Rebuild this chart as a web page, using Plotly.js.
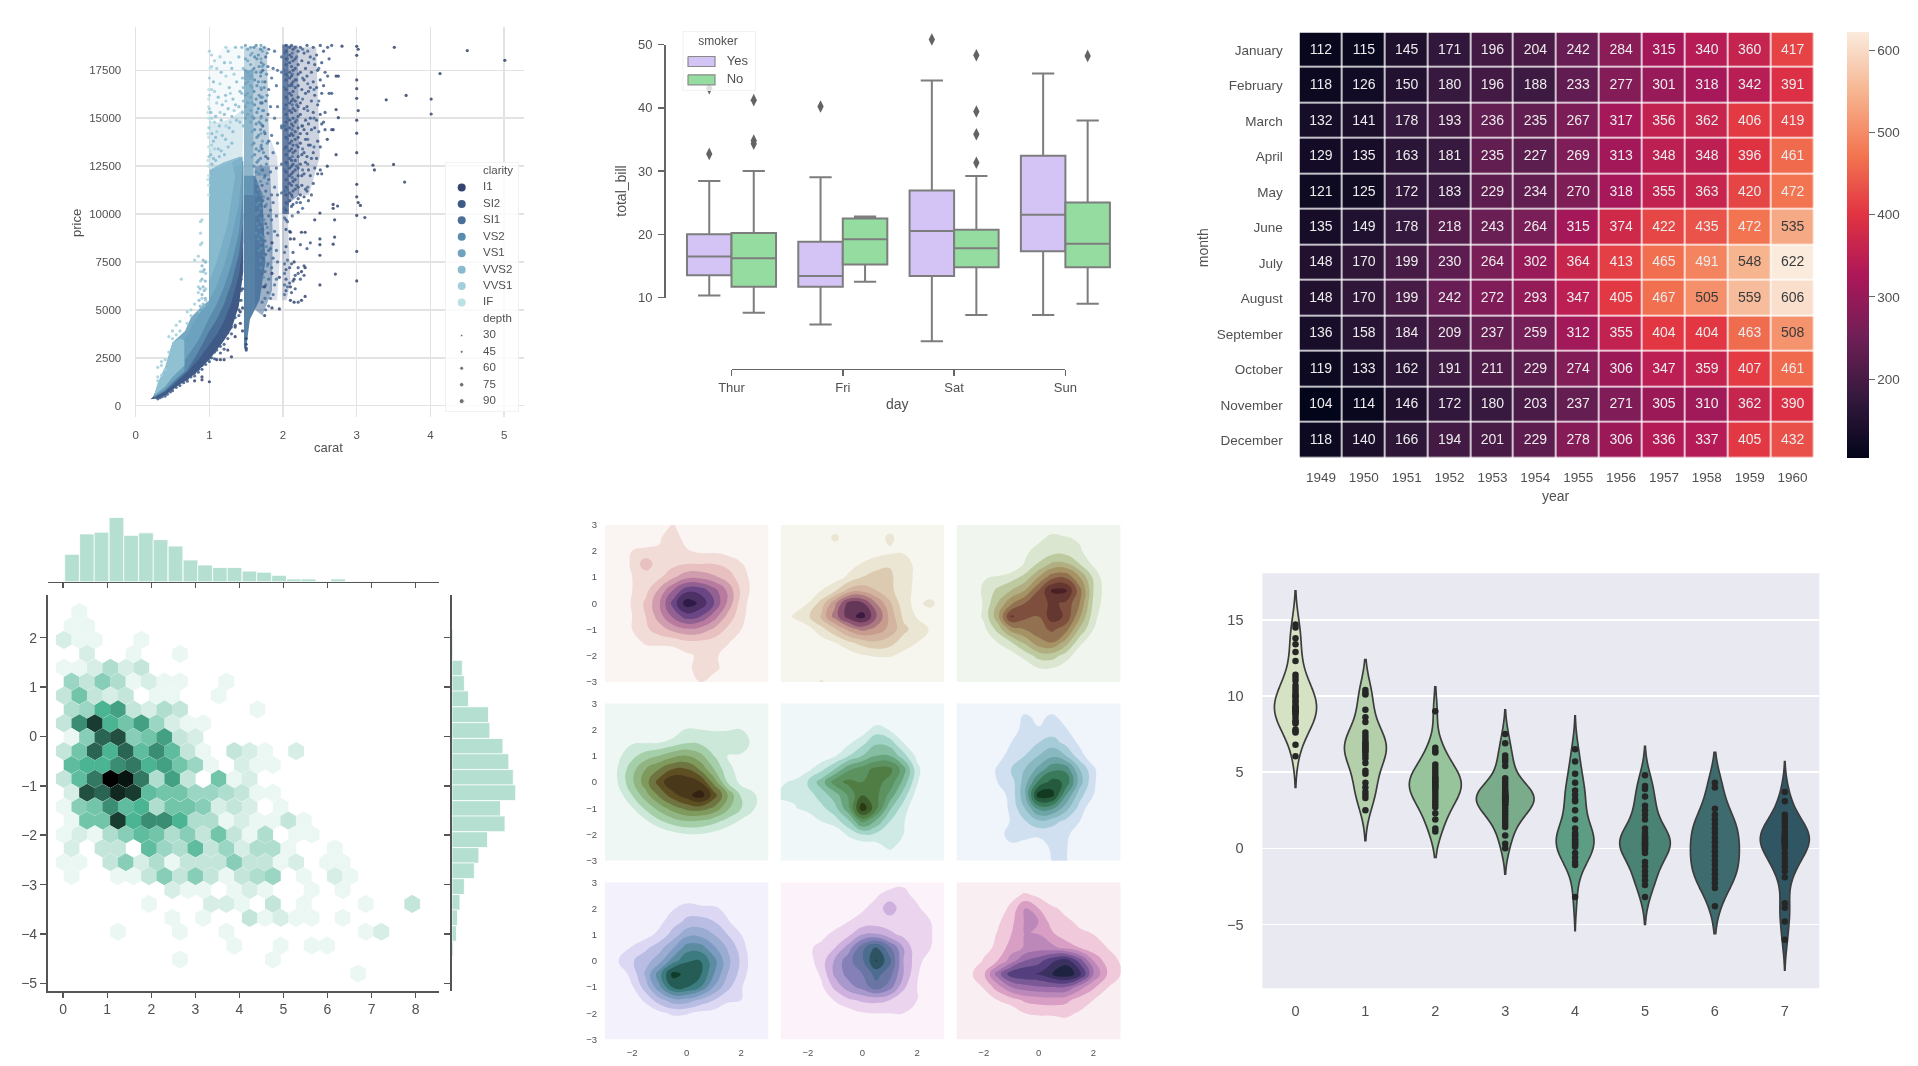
<!DOCTYPE html>
<html><head><meta charset="utf-8">
<script src="https://cdn.plot.ly/plotly-3.0.1.min.js"></script>
<style>html,body{margin:0;padding:0;background:#fff}#chart{width:1918px;height:1066px;filter:blur(0.75px)}</style>
</head><body><div id="chart"></div>
<script>
const W=1918,H=1066;
const FONT='"Liberation Sans",Arial,sans-serif', TXT='#505050';

/* ---------- diamonds scatter ---------- */
const clarityNames=['I1','SI2','SI1','VS2','VS1','VVS2','VVS1','IF'];
const clarityColors=['#34446f','#3f5a87','#4a6f99','#5b8cae','#6ea2be','#88bad0','#a1cfda','#bae1e5'];
const depthValues=['30','45','60','75','90'];
const depthSizes=[2.5,3,4,4.5,5];
const priceTicks=[0,2500,5000,7500,10000,12500,15000,17500];
const caratTicks=[0,1,2,3,4,5];
// dense parts of the cloud: [carat list, price list in thousands, colour, opacity]
const cloudRegions=[
[[.2,.3,.4,.5,.6,.7,.8,.9,1,1.1,1.2,1.3,1.4,1.46,1.46,1.35,1.2,1,.9,.8,.7,.5,.3],[.33,.38,.55,.85,1.1,1.35,1.65,2,2.4,2.9,3.4,4,5.2,7,10,9,7.2,5.3,3.9,3.1,2.5,1.5,.7],'#3f5a87',1],
[[.23,.4,.5,.7,.85,1,1.1,1.2,1.3,1.4,1.46,1.46,1.35,1.2,1.1,1,1,.9,.8,.7,.5,.3],[.4,.72,1.05,1.75,2.4,3.2,3.7,4.4,5.4,6.8,8.5,12.5,12,10,8.5,7,5.2,5,4.3,3.6,2.1,1],'#4a6f99',1],
[[.24,.4,.5,.7,.85,1,1.1,1.2,1.3,1.4,1.46,1.46,1.3,1.1,1,1,.9,.8,.7,.5,.3],[.42,.78,1.15,1.85,2.8,3.9,4.5,5.3,6.4,7.9,9.7,12.8,12.2,10,8.5,5.3,5.1,4.4,3.7,2.5,1.05],'#5b8cae',1],
[[.25,.4,.5,.66,.67,.85,1,1.1,1.2,1.3,1.4,1.45,1.45,1.35,1.2,1.05,1,1,.9,.75,.67,.5,.4,.3],[.45,.85,1.25,1.8,2.4,3.4,4.6,5.3,6.2,7.4,9,11,13,12.8,12.5,12.3,12,5.5,5.2,4.6,3.9,3.3,2,1.1],'#6fa3c0',.95],
[[1,1.1,1.2,1.3,1.4,1.45,1.42,1.2,1],[5.5,6.3,7.3,8.8,10.5,12.5,13,12.7,12.3],'#7db0c8',.85],
[[.25,.4,.5,.66,.66,.6,.5,.42,.3],[.55,1,1.5,2.1,3.4,3.5,3.3,2.2,1.2],'#8fc1d2',1],
[[1,1.1,1.25,1.35,1.3,1.1,1],[6.5,7.5,9.5,12,12.8,12.5,12],'#8fc1d2',.7],
[[1,1.45,1.46,1.3,1.15,1],[12,12.6,15.5,15,14.8,14.8],'#88bad0',.32],
[[1,1.46,1.46,1.2,1.05,1],[14.8,15.5,18.7,18.7,18,17],'#a1cfda',.12],
[[1.47,1.47,1.62,1.72,1.76,1.68,1.55,1.5],[3,12,12,11,7.5,5.5,4.5,3],'#4f7aa1',.95],
[[1.62,1.62,1.82,1.86,1.85,1.72],[5,12.5,12.5,9,6,4.7],'#4a6f99',.55],
[[1.47,1.47,1.6,1.6],[11,17.5,17.5,11],'#6a9cb8',.75],
[[1.47,1.47,1.6,1.6],[17,18.7,18.7,17],'#6a9cb8',.4],
[[1.6,1.6,1.78,1.82],[12,18.7,18.7,12],'#5b86a9',.4],
[[1.82,1.82,1.92,1.96,1.92],[5.5,14,13,8,5.5],'#4a6f99',.2],
[[1.99,1.99,2.07,2.08],[10,18.85,18.85,10],'#46638f',.82],
[[2.06,2.06,2.2,2.22],[10.5,18.8,18.8,11],'#3f5a87',.5],
[[2.2,2.2,2.45,2.5,2.35],[11,18.7,18.7,13,11],'#3f5a87',.26],
[[1.99,1.99,2.06,2.1,2.05],[5.5,10.2,10.2,6.5,5.5],'#3f5a87',.25]];
const ptsI1=[[5.01,[18.02]],[4.5,[18.53]],[4.13,[17.33]],[4.01,[16,15.22]],[3.67,[16.19]],[3.4,[15.96]],[3.51,[18.7]],[3.65,[11.67]],[3.5,[12.59]],[3.22,[12.55]],[3.24,[12.3]],[3.11,[9.82]],[3.05,[10.45]],[3.02,[18.6,15.4,10.6]],[3,[18.75,18.28,17,16.54,16.04,14.9,14.22,13.2,11.55,10.9,9.93,8.05,6.51]],[2.8,[18.76]],[2.75,[17.2,15.03]],[2.72,[17.2,13.1,15.45]],[2.71,[6.87]],[2.74,[10.42]],[2.7,[9.7,8.8]],[2.68,[8.43,10.5,10.3,14.4]],[2.5,[10.05,8.7,8.4,7.85,6.3]],[2.43,[9.7]],[2.6,[12.5,13.9]],[2.3,[9.05,7.2,5.7]],[2.25,[9.05,7,5.5]],[2.1,[9.05,8.7,6.2,5.5]],[2.15,[8.7,7.5,6.6,5.4]],[1.95,[6.7,5.05]],[1.85,[8.5,6.9,5.1]],[1.75,[4.7,6.2]],[1.5,[3,3.2,3.5,2.9]],[1,[1.25]],[1.1,[2.4]],[1.15,[2.4]],[1.2,[2.4]],[1.3,[2.55]],[.8,[1.3]],[.9,[1.35,1.5]],[1.25,[2.9]],[1.35,[3.6,4.1]],[1.42,[4.3,4.9]],[1.45,[3.9,5.1,6.1]]];
const ptsEdge=[[.3,[.36]],[.33,[.42]],[.36,[.47]],[.4,[.5]],[.43,[.6]],[.47,[.72]],[.5,[.78,.9]],[.55,[.95]],[.6,[1.05]],[.65,[1.2]],[.7,[1.28,1.4]],[.75,[1.5]],[.8,[1.55,1.7]],[.85,[1.75,1.9]],[.9,[1.9,2.1]],[.95,[2.15]],[1,[2.3,2.5]],[1.03,[2.5,2.7]],[1.07,[2.45,2.8]],[1.1,[2.9]],[1.15,[2.75,3.1,3.3]],[1.2,[2.95,3.2,3.6]],[1.25,[3.5,3.8,4.1]],[1.3,[3.75,4.1,4.4]],[1.35,[4.2,4.6,5]],[1.4,[4.7,5,5.5]],[1.43,[5.5,6,6.6]]];
const ptsSI2=ptsEdge.concat([[2.04,[18.8,18.5,18.1,17.8,17.3,17,16.5,16.1,15.7,15.2,14.8,14.4,14,13.5,13.1,12.7,12.2,11.8,11.4,11,10.6,10.2,9.7,9.2,8.3,7.1,6.6,6]],[2.09,[18.7,18.3,17.9,17.4,17.1,16.7,16.3,15.8,15.4,14.9,14.5,14.1,13.7,13.3,12.9,12.4,12,11.6,11.1,10.7,9.1,7.2,6.4]],[2.115,[18.8,18.2,17.7,17.2,16.8,16.2,15.9,15.3,14.7,14.2,13.8,13.4,12.8,12.5,12.1,11.5,11,10.4,7.4,5.9]],[2.135,[18.6,18,17.5,16.9,16.4,16,15.5,15,14.6,14.1,13.6,13.2,12.6,12.2,11.7,11.2,10.5,8,6.5]],[2.165,[18.7,18.1,17.6,17,16.6,15.9,15.4,14.8,14.3,13.9,13.3,12.8,12.3,11.8,11.3,6.8,6.1]],[2.205,[18.5,17.8,17.3,16.7,16.1,15.6,15.1,14.5,14,13.5,13,12.4,12,11.4,10.8,10.1,7.2,6.9,5.4]],[2.235,[18.7,17.4,15.8,15.2,14.2,13.7,12.6,11,10.6,8.4,6.6]],[2.255,[18,16.5,14.6,13.1,12,11.5]],[2.285,[18.4,17,15.5,14.4,13.2,12.1,10.9,7.3,6.8]],[2.305,[17.6,16.3,14.9,13.9,12.7,11.3]],[2.325,[18.8,17.2,15.6,14.2,13,11.2,8.2]],[2.345,[17.9,16.4,14.7,13.6,12.3,10.7]],[2.37,[18.2,16.6,15,13.6,12,8.5]],[2.385,[17.4,15.9,14.4,12.9,11]],[2.41,[18.7,16.9,15.3,13.2,11.6]],[2.43,[17.8,16.2,14.5,12.4]],[2.455,[18.3,16.6,14.9,12.9]],[2.47,[17.5,15.7,13.8,12.1]],[2.505,[18.8,17,15.2,13.5,12.3]],[2.525,[17.9,16.3,14.7,12.1]],[2.55,[18.5,16.7,14.8]],[2.57,[17.4,15.3,14.4]],[2.605,[18.7,17.2]],[2.625,[18.1,16.3]],[2.66,[18.8,16.3,14.4]]]);
const ptsSI1=[[2.02,[18.4,17.5,16.6,15.5,14.6,13.4,12.3,11.2,10.3,9.8,8,7.4,6.9,6.3,5.8]],[2.06,[18.1,17.2,16,15,13.9,12.6,11.3,10.5,9.6,7.6,6.2]],[2.125,[18.4,17.3,16.7,15.7,14.4,13,11.9,10.9,9.9]],[2.185,[18.2,17,15.7,14.9,13.6,12.5,11.5,10.6]],[2.265,[18.6,17.1,16,14.6,13.4,12.3,10.3]],[2.335,[18.5,16.8,15.4,13.9,12.6,11.4]],[2.42,[18.1,16.5,15,13.5]],[2.485,[17.6,15.9,14.3]],[1.98,[18.2,17.4,14.6,14.5,12.6,11.1]],[1.925,[17.5,15.6,13.7,11,8.9,7.5]],[1.91,[16.7,12.4,9.9,8.1,6.6]],[1.885,[18.5,15,11.4,9.1,6.3]],[1.865,[17.6,13.2,10.6,7.7,5.8]],[1.845,[17.1,14.1,11,9.7,7.2]],[1.83,[15.6,12.2,10.2,8.2,5.6]],[1.805,[18.6,16.5,13.8,11.8,9.9,8.1,6.6,5.2]],[1.795,[17.7,15.2,12.9,10.8,9,7.4,5.9]],[1.765,[18.2,15.9,13,11.2,9.5,7.9,6.3,5]],[1.755,[16.9,14.2,12,10.4,8.6,7,5.6]],[1.725,[17.5,14.6,12.3,10.7,9.2,7.7,6.2]],[1.715,[15.8,13.4,11.5,9.9,8.4,6.9,5.4]]];
const ptsVS2=[[1.605,[18.7,17.6,16.4,15,13.7,12.5]],[1.615,[18.2,17,15.7,14.4,13.1,11.9]],[1.635,[18.8,17.4,16,14.7,13.4,12.2,11,10,9]],[1.645,[18.1,16.7,15.3,14,12.7,11.6,10.5,9.5]],[1.665,[18.3,16.9,15.5,14.1,12.8,11.3,10.1,8.7]],[1.675,[17.7,16.2,14.8,13.3,12.1,10.6,9.3,8.1]],[1.695,[18.6,17.2,15.8,14.4,12.9,11.7,10.3,8.9,7.6]],[1.705,[17.9,16.5,15.1,13.6,12.3,11,9.6,8.2]],[1.7,[17.4,16.1,14.7,13.5,12.5,11.1,9.8,8.5,7.2]],[1.745,[18.7,16.6,14.3,11.9,9.7,7.8]],[1.735,[17.8,15.4,13.2,10.9,8.8,6.7]],[1.785,[18.4,16.2,13.7,11.6,9.3,7.3]],[1.775,[17.3,14.9,12.6,10.5,8.3]]];
const ptsVS1=[[1.56,[18.7,18.3,17.8,17.2,16.7,16.1,15.4,14.8]],[1.52,[18.6,18,17.4,16.9,16.3,15.8,15.2]],[1.49,[18.8,18.1,17.5,16.8,16.2,15.6,15]],[1.58,[18.4,17.5,16.6,15.8,15.1,14.3,13.6,13]],[1.7,[18.8,18.1,17.4,16.6,15.8,15,14.2]],[1.72,[18.5,17.7,16.9,16.1,15.4,14.6,13.8]]];
const ptsVVS2=[[1.02,[15.3,13.1]],[1.035,[14.2,12.6]],[1.055,[16.9,13.8,12.9]],[1.085,[15.1,14,12.8,12.2]],[1.12,[16.1,13.4]],[1.135,[14.6,13]],[1.16,[17.4,14.9,13.3]],[1.175,[15.7,14.1]],[1.205,[17.9,15.2,13.1]],[1.22,[16.2,13.9]],[1.255,[18.5,15.5,13.5]],[1.27,[16.6,14.5]],[1.305,[17.6,15.1,13.7]],[1.32,[16,14.3]],[1.355,[18.7,15.7]],[1.37,[16.9,14.9]],[1.4,[18.2,15.6]],[1.415,[16.4,14.8]],[1.44,[18.7,16.3]],[1.45,[17.1,15.3]],[.9,[5.1,5.8,6.6,7.3]],[.915,[5.3,6.2,7,7.6]],[.93,[5.2,6,7.1]],[.945,[5.6,6.5,7.5]],[.86,[4.9,5.5]],[.875,[5.2,6.1]],[1.46,[17.6,16.6,15.9,14.6]]];
const ptsVVS1=[[1,[18.5,17.1,16.2,15.5,14.5,13]],[1.03,[18.3,17.7,16.5,15,13.6]],[1.07,[18,16.4,14.8,13.4]],[1.1,[17.6,15.8,14.3]],[1.145,[18.2,16.8,15.3]],[1.225,[18.7,17.2,15.9,14.6]],[1.285,[17.9,16.3,14.8]],[1.335,[17.3,15.4]],[.3,[1.5,2,1.3]],[.35,[2.3,2.1,1.6]],[.4,[2.4,1.9]],[.45,[3.6,2.8]],[.5,[3.9,3.5]],[.55,[4.2,3.7]],[.6,[4.4,3.9]],[.62,[6.6]],[.7,[4.9,4.3]],[.75,[5,4.7]],[.8,[5.3,7.6]],[.85,[5.9,6.2,7.8]],[.88,[6.5,7,8.4,9,9.6]],[.9,[8.5,9.7,5.6]],[.95,[5.5,6.1,6.9,7.5]]];
const ptsIF=[[.99,[16.5,16,15.6,15,14.5,14,13.5,13,12.5,12,11.5,11]],[1.01,[17.6,14.8,13.3]],[.98,[15.3,14.2,12.8,11.8]]];
const clarityPts=[ptsI1,ptsSI2,ptsSI1,ptsVS2,ptsVS1,ptsVVS2,ptsVVS1,ptsIF];

/* ---------- tips boxplot ---------- */
const dayNames=['Thur','Fri','Sat','Sun'];
const dayPos=[0,1,2,3];
const smokerNames=['Yes','No'];
const smokerColors=['#d4c4f6','#94dca0'];
const boxYes={low:[10.3,5.75,3.07,7.25],q1:[13.5,11.7,13.4,17.3],med:[16.5,13.4,20.5,23.1],q3:[20,18.8,26.9,32.4],high:[28.4,29,44.3,45.4]};
const boxNo={low:[7.6,12.5,7.25,9],q1:[11.7,15.2,14.8,14.8],med:[16.2,19.2,17.8,18.5],q3:[20.2,22.5,20.7,25],high:[30,22.8,29.2,38]};
const fliersX=[-.2,-.2,.2,.2,.2,.8,1.8,2.2,2.2,2.2,2.2,3.2];
const fliersY=[32.7,43.1,34.3,34.8,41.2,40.2,50.8,31.3,35.8,39.4,48.3,48.2];
const billTicks=[10,20,30,40,50];

/* ---------- flights heatmap ---------- */
const months=['January','February','March','April','May','June','July','August','September','October','November','December'];
const years=['1949','1950','1951','1952','1953','1954','1955','1956','1957','1958','1959','1960'];
const flights=[
[112,115,145,171,196,204,242,284,315,340,360,417],
[118,126,150,180,196,188,233,277,301,318,342,391],
[132,141,178,193,236,235,267,317,356,362,406,419],
[129,135,163,181,235,227,269,313,348,348,396,461],
[121,125,172,183,229,234,270,318,355,363,420,472],
[135,149,178,218,243,264,315,374,422,435,472,535],
[148,170,199,230,264,302,364,413,465,491,548,622],
[148,170,199,242,272,293,347,405,467,505,559,606],
[136,158,184,209,237,259,312,355,404,404,463,508],
[119,133,162,191,211,229,274,306,347,359,407,461],
[104,114,146,172,180,203,237,271,305,310,362,390],
[118,140,166,194,201,229,278,306,336,337,405,432]];
const rocket=[[0,'#03051a'],[.143,'#35193e'],[.286,'#701f57'],[.429,'#ad1759'],[.571,'#e13342'],[.714,'#f37651'],[.857,'#f6b48f'],[1,'#faebdd']];

/* ---------- hexbin with marginals ---------- */
// one list of counts per hexagon row, top row first; a zero is an empty cell
const hexRowY=[2.516,2.234,1.953,1.672,1.39,1.109,.828,.546,.265,-.016,-.298,-.579,-.86,-1.141,-1.423,-1.704,-1.985,-2.267,-2.548,-2.829,-3.11,-3.392,-3.673,-3.954,-4.236,-4.517,-4.8];
const hexCounts=[
[0,1],
[1,1],
[2,1,1,0,0,1],
[0,2,0,0,1,0,0,1],
[1,1,2,4,2,3],
[5,3,6,4,1,2,1,1,0,0,1],
[3,7,3,2,3,0,1,1,0,0,1],
[4,5,9,10,3,2,4,3,0,0,0,0,1],
[3,11,15,9,7,10,5,2,1,1],
[1,6,13,14,6,7,10,3,2],
[3,7,13,9,13,8,11,8,3,1,0,3,2,1,0,2],
[8,9,9,11,12,9,10,7,5,1,0,2,1,1],
[3,8,12,18,17,12,4,10,3,0,7,1,2],
[2,14,13,16,15,8,7,7,5,5,4,3,1,1],
[1,6,7,11,8,9,4,7,7,6,2,3,2,0,1],
[1,7,7,15,9,11,11,9,4,4,1,2,1,1,3,1],
[1,2,1,4,6,8,7,4,6,3,7,3,1,4,0,1,1],
[2,0,3,3,0,8,5,4,8,3,5,2,4,4,1,0,0,1],
[1,1,0,3,6,2,4,1,3,3,3,6,3,3,1,2,0,1,1],
[1,0,0,1,1,3,6,3,6,3,1,3,4,5,0,1,0,2,1],
[0,0,0,0,0,0,0,2,1,1,0,1,2,1,0,0,1,0,1],
[0,0,0,0,0,1,0,0,0,2,2,1,0,3,0,1,0,0,0,1,0,0,3],
[0,0,0,0,0,0,0,1,0,1,0,0,3,1,2,1,1,0,1],
[0,0,0,1,0,0,0,1,0,0,1,0,0,0,0,0,0,0,0,1,2],
[0,0,0,0,0,0,0,0,0,0,0,1,0,0,1,0,1,1],
[0,0,0,0,0,0,0,1,0,0,0,0,0,1],
[0,0,0,0,0,0,0,0,0,0,0,0,0,0,0,0,0,0,0,1]];
const hexScale=['#ffffff','#dbf0e9','#b8e1d3','#93d2be','#6fc3a8','#4bb493','#3c9075','#2d6c58','#1e483b','#0f241d','#000000'];
const hexTicksX=[0,1,2,3,4,5,6,7,8];
const hexTicksY=[-5,-4,-3,-2,-1,0,1,2];
const histTopX=[.2,.54,.87,1.21,1.54,1.88,2.21,2.55,2.89,3.22,3.56,3.89,4.23,4.56,4.9,5.24,5.57,5.91,6.24,6.58,6.91,7.25,7.58,7.92];
const histTopV=[77,134,139,180,130,137,118,100,61,47,40,40,30,27,18,8,8,2,8,1,1,1,1,1];
const histRightY=[2.01,1.69,1.38,1.07,.76,.44,.12,-.2,-.51,-.83,-1.14,-1.46,-1.77,-2.09,-2.41,-2.72,-3.04,-3.36,-3.67,-3.99,-4.3];
const histRightV=[3,3,30,36,48,106,110,148,165,178,185,141,154,103,78,65,36,23,16,13,4];

/* ---------- nine density panels: z on the kdeAxis grid, rows from y=3 down ---------- */
const kdeX=[-3,-2.5,-2,-1.5,-1,-.5,0,.5,1,1.5,2,2.5,3];
const kdeY=[3,2.5,2,1.5,1,.5,0,-.5,-1,-1.5,-2,-2.5,-3];
const Z0=[0,0,0,0,0,0,0,0,0,0,0,0,0];
const kde1=[[0,0,0,0,.3,1.1,.2,0,0,0,0,0,0],[0,0,0,.1,.9,1.5,.6,.1,0,0,0,0,0],[0,0,1,1.3,1.1,1.2,1.1,.8,.8,.6,.3,0,0],[0,.1,1.2,2.6,1.4,1.7,2,2,2,1.7,1.1,.2,0],[0,.1,1,1.4,1.8,2.8,3.7,3.7,3.2,2.5,1.5,.5,0],[0,.2,1,1.7,3.2,5,6.7,6.6,5.4,3.8,1.8,.5,0],[0,.2,1.1,2.2,3.9,6.4,8.6,7.8,6,3.8,1.5,.3,0],[0,.2,1,2,3.5,5.2,6.5,6,4.5,2.7,1.3,.3,0],[0,.1,1,1.8,2.5,3.3,3.8,3.6,2.8,1.8,1,.1,0],[0,0,.4,1.2,1.3,1.3,1.7,1.7,1.5,1.1,.3,0,0],[0,0,0,.1,.1,.4,.8,1.2,1.2,.6,0,0,0],[0,0,0,0,0,0,.8,1.3,1.3,.5,0,0,0],[0,0,0,0,0,0,.4,1,.4,0,0,0,0]];
const kde2=[Z0,[0,0,0,0,1.4,0,0,0,1.5,0,0,0,0],[0,0,0,0,0,0,.1,.4,.7,.85,.1,0,0],[0,0,0,0,0,.6,1.1,1.7,1.9,1.5,.7,0,0],[0,0,0,.1,.5,1.2,2,2.3,2.2,1.4,.8,0,0],[0,0,.3,1,1.8,3.3,3.6,3,2.3,1.3,.8,.1,0],[0,.2,1,2.4,4.8,7.4,7.2,5,3.2,1.4,.7,1.4,0],[0,1.2,1.8,3.2,5.5,7.6,8.4,6.2,3.7,1.8,.9,.2,0],[0,0,.6,1.6,2.8,4.3,5.3,4.6,3.7,2.3,1.5,.9,0],[0,0,0,.5,1,1.8,2.4,2.8,2.4,1.5,1,.1,0],[0,0,0,0,.1,.4,.9,1.1,1.1,.7,.1,0,0],Z0,[0,0,0,1.2,0,0,0,0,0,0,0,0,0]];
const kde3=[Z0,[0,0,0,0,0,0,.6,1.4,1.1,.8,0,0,0],[0,0,0,0,0,.7,1.5,1.5,1.5,1.2,.1,0,0],[0,0,0,0,.1,1.1,2.1,3.2,3.2,2,.8,0,0],[0,0,.9,1.1,1.5,2.3,4,5.6,5.8,4,1.8,.2,0],[0,.2,1.2,2.2,3,4,6,8.2,8.2,5.4,2,.4,0],[0,.1,1.1,3,4.8,6,6.6,7.2,6.8,5,1.8,.3,0],[0,0,1.2,3.6,7.2,6.3,6,7.6,6.8,4.2,1.4,.1,0],[0,0,.7,2.3,4.4,5,5.6,6.2,5.4,2.8,1,0,0],[0,0,0,1,1.9,3.2,4.6,5,3.5,1.3,.2,0,0],[0,0,0,0,.5,1.4,2.4,2.5,1.5,.3,0,0,0],[0,0,0,0,0,.1,.9,.9,.3,0,0,0,0],Z0];
const kde4=[Z0,Z0,[0,0,0,0,0,.3,1.1,1,.9,.9,1,.1,0],[0,.3,.9,.95,1,1.4,1.9,1.8,1.7,2,1.9,.4,0],[0,.8,1.7,2.5,3,3.7,4,3.3,2,1,.8,.1,0],[0,1.1,2.6,4,5,6,6,4.8,3,1.3,.6,0,0],[0,1.1,2.8,4.6,6.5,8,7.7,7,4.6,1.9,.7,.1,0],[0,.5,2,3.6,5.2,6.6,7.6,8.6,6.5,4,1.8,1.1,.1],[0,.1,.9,2.2,3.4,4.5,5.3,5.5,4.8,3.2,2,1,.1],[0,0,0,.8,1.8,2.5,2.9,2.8,2.3,1.6,.8,.1,0],[0,0,0,0,.1,.6,.9,.9,.6,.1,0,0,0],Z0,Z0];
const kde5=[Z0,Z0,[0,0,0,0,0,0,.4,1.5,.9,.1,0,0,0],[0,0,0,0,0,.8,1.7,2.8,2.5,1,.1,0,0],[0,0,0,.3,.9,2,3,4,4,2.4,.7,0,0],[0,0,.7,1.7,3,4.8,5.5,6.3,6.3,4.5,1.3,0,0],[.8,1.2,2.1,3.5,5.6,6.3,6,6.3,5.7,3.7,1.1,0,0],[1.2,1.2,1.5,2.5,3.5,5.2,7,6.3,4.7,2.5,.5,0,0],[.6,.9,1.3,1.7,2.7,4.8,8.8,6.3,3.2,1.5,.1,0,0],[0,0,.3,1,1.5,2.8,5.3,3.8,2,1.1,0,0,0],[0,0,0,0,.2,1.2,2,1.7,1.4,1,0,0,0],[0,0,0,0,0,0,.1,.5,1.2,.5,0,0,0],Z0];
const kde6=[Z0,[0,0,0,0,.3,1.2,.7,1.2,.5,0,0,0,0],[0,0,0,0,.6,1.3,1.1,1.4,1.1,.1,0,0,0],[0,0,0,.1,1,1.4,2,2.5,1.7,.8,0,0,0],[0,0,0,.7,1.3,2,3,3.8,3,1.4,.3,0,0],[0,0,.4,1.1,2,3,4.3,5.7,5.7,3,1.2,0,0],[0,0,.7,1,1.5,3.5,6.2,7.4,6.8,3.5,1.2,0,0],[0,0,.1,.5,1.3,3.8,8.6,8.4,5,2.4,1,0,0],[0,0,0,.4,1.2,3,5.3,5.2,3.4,1.6,.2,0,0],[0,0,0,.3,1.1,1.9,2.8,2.4,1.7,1,0,0,0],[0,0,0,.7,1.3,1.2,1.2,1.3,1.2,.5,0,0,0],[0,0,0,.3,.8,.7,.4,1.2,1.1,.2,0,0,0],[0,0,0,0,0,0,0,1.1,1.1,0,0,0,0]];
const kde7=[Z0,Z0,[0,0,0,0,0,.9,1.6,1.3,1.2,.7,.1,0,0],[0,0,0,0,.7,1.6,2.2,2.4,2,1.1,.4,0,0],[0,0,.2,.6,1.3,2.4,3.7,3.7,3,2,1,0,0],[0,.5,1.1,1.8,2.6,3.9,5.5,5.5,4.2,2.9,1.5,.1,0],[0,1,1.9,2.6,3.6,5.5,6.9,7,5.4,3.3,1.8,.2,0],[0,.2,1.4,3.2,5.6,8.4,7.7,7.2,5,3,1.6,.1,0],[0,0,.9,2.5,4.8,7.2,7.1,6,3.9,2.3,1.1,0,0],[0,0,.2,1.3,2.6,3.6,3.6,2.8,2,1.2,1,0,0],[0,0,0,.1,.7,1.2,1.1,.7,.6,.2,0,0,0],Z0,Z0];
const kde8=[[0,0,0,0,0,0,0,0,.5,.8,0,0,0],[0,0,0,0,0,0,.1,.9,1.4,1.3,.7,0,0],[0,0,0,0,0,.2,.9,1.3,2.7,1.3,1.2,.4,0],[0,0,0,0,.5,1,1.3,1.4,1.4,1.3,1.3,1,0],[0,0,.1,.7,1.3,1.8,3,3.1,2.3,1.7,1.3,1.1,.1],[0,0,.8,1.3,2,3.5,5.7,7.2,5.2,3,1.2,1,0],[0,0,.6,1.5,3.2,4.7,5.8,8.1,6.3,3,1.4,.4,0],[0,0,.2,1.2,3.3,4.4,5,6.4,5.4,3,1.1,.3,0],[0,0,0,.8,2.3,3.6,4.4,5.6,4.5,2.2,1,.1,0],[0,0,0,.3,1.1,1.8,2.2,2.3,2,1.4,1,0,0],[0,0,0,0,.1,.5,.9,1,1,1,1,0,0],Z0,Z0];
const kde9=[Z0,[0,0,0,0,.6,1.2,.8,.1,0,0,0,0,0],[0,0,0,.3,1.3,3,2,1.2,.7,0,0,0,0],[0,0,0,.8,1.7,3.1,3,1.5,1.2,.8,.1,0,0],[0,0,.2,1.1,2,3,3,2.2,1.4,1.2,1,.1,0],[0,0,.7,1.2,2.5,3.1,3.5,3.3,2.7,2,1.3,1,.1],[0,.3,1.1,2,3.5,5,5.6,6.8,7.6,5.6,3,1.5,.9],[0,.8,1.8,4.5,6.6,7,7.1,8,8.8,7.5,4,2,1],[0,.4,1.1,2.5,4,4.6,4.9,5,5,3.5,2.2,1.1,.1],[0,0,.1,1,1.5,2.2,2.4,2.5,2.3,1.5,1,.2,0],[0,0,0,0,.3,1,1.2,1.2,1.2,.9,.1,0,0],[0,0,0,0,0,0,0,.2,.6,.2,0,0,0],Z0];
const kdeSets=[kde1,kde2,kde3,kde4,kde5,kde6,kde7,kde8,kde9];
const kdeStops=[0,.125,.25,.5,.75,1];
const kdePalettes=[
['#faf5f3','#f2dcd8','#e8c0c0','#b87a9e','#6b4684','#2e1c47'],
['#f6f6ef','#ebe5d3','#dccbb0','#c79c8f','#8d5371','#3b1b3f'],
['#f0f6ee','#dae6cf','#bdc99f','#a59265','#7e4f3c','#4a1f25'],
['#eff7f4','#cce8d8','#a4cfa8','#7e9a5c','#5e4f23','#362012'],
['#eff7f9','#cfe9e5','#a2d5c8','#68a57c','#4f7d44','#2b3a12'],
['#f0f4fb','#d0e0f0','#a6cbd9','#6da5a6','#397a5b','#123a20'],
['#f3f1fb','#dcd8f3','#b9bce3','#7b9cc0','#3c7b80','#0f3d2c'],
['#fbf2fa','#ead4ee','#cdb0dd','#8580b8','#4c6c90','#0f3b38'],
['#f9eff3','#f0c9da','#d89ec4','#a070ad','#553f7f','#1f2342']];
const kdeTicks=[-3,-2,-1,0,1,2,3];
const kdeTicksX=[-2,0,2];

/* ---------- violins ---------- */
const violinSamples=[
[14.7,14.5,13.8,13.4,12.9,12.3,11.4,11.2,11,10.7,10.5,10.3,10.1,10,9.9,9.7,9.6,9.4,9.3,9.2,9.2,9.1,9,9,8.9,8.8,8.6,8.4,8.3,8.2,7.8,7.7,7.6,6.8,6.05],
[10.4,10.2,10.1,9.1,8.6,8.3,7.6,7.4,7.2,7,6.9,6.8,6.7,6.6,6.5,6.4,6.3,6.1,5.9,5.6,5.1,4.9,4.3,4,3.7,3.5,3.3,2.5],
[9,6.6,6.4,6.3,5.5,5.3,5.1,4.9,4.7,4.6,4.5,4.4,4.3,4.2,4.1,4,3.9,3.7,3.5,3.3,3.1,2.9,2.7,2.3,1.9,1.3,1.1],
[7.5,6.9,6.1,5.9,5.7,5.4,4.6,4.4,4.2,4,3.8,3.7,3.6,3.5,3.5,3.4,3.4,3.3,3.3,3.3,3.2,3.2,3.1,3.1,3,2.9,2.8,2.6,2.4,2.2,2,1.8,1.6,1.4,.85,.3,0],
[6.5,5.7,4.9,4.3,3.8,3.5,3.2,3.1,2.5,1.9,1.3,1,.9,.8,.6,.5,.4,.3,.2,.1,-.3,-.6,-.9,-1.1,-3.2],
[4.8,4.1,3.9,3.4,2.8,2.5,2.2,1.9,1.3,1,.8,.7,.6,.5,.4,.3,.3,.2,.1,0,-.1,-.3,-.9,-1.2,-1.5,-1.8,-2.1,-2.4,-3.2],
[4.3,4,2.6,2.2,1.9,1.6,1.3,1,.7,.4,.1,-.2,-.5,-.8,-1.1,-1.4,-1.7,-2,-2.3,-2.6,-3.8],
[3.7,3.1,2.2,2,1.8,1.6,1.4,1.1,.9,.8,.7,.6,.5,.5,.4,.3,.2,0,-.3,-.6,-.9,-1.2,-1.5,-1.9,-3.6,-3.9,-4.8,-6]];
const violinSpans=[[4,16.9],[.5,12.4],[-.6,10.6],[-1.7,9.1],[-5.4,8.7],[-5,6.7],[-5.6,6.3],[-8,5.7]];
const violinColors=['#d5e2c4','#b4d0ab','#97c49b','#7aab8a','#5d9d84','#4a8274','#3e6b6d','#305664'];
const violinFullWidths=[.6,.6,.74,.82,.54,.72,.7,.7];
const violinBandwidths=[1.2,1.1,1,.9,1.1,1,1.1,1];
const violinTicksY=[-5,0,5,10,15];
const violinTicksX=[0,1,2,3,4,5,6,7];

/* ---------- helpers ---------- */
const dx=(a,b)=>[a/W,b/W];
const dy=(top,bot)=>[1-bot/H,1-top/H];
const axisFont=s=>({family:FONT,size:s,color:TXT});
const data=[],layout={
  width:W,height:H,margin:{l:0,r:0,t:0,b:0},paper_bgcolor:'#fff',plot_bgcolor:'rgba(0,0,0,0)',
  showlegend:false,hovermode:false,boxmode:'group',boxgap:.2,boxgroupgap:0,violinmode:'overlay',violingap:0,barmode:'overlay',
  font:{family:FONT,color:TXT},shapes:[],annotations:[]
};
function note(text,x,y,size,rot){layout.annotations.push({text,x:x/W,y:1-y/H,xref:'paper',yref:'paper',showarrow:false,xanchor:'center',yanchor:'middle',textangle:rot||0,font:axisFont(size)});}

/* scatter: x,y pair 1 */
layout.xaxis={domain:dx(134.5,524),range:[-.016,5.27],tickvals:caratTicks,showgrid:true,gridcolor:'#e3e3e3',gridwidth:1.5,zeroline:false,ticks:'outside',ticklen:7,tickcolor:'rgba(0,0,0,0)',tickfont:axisFont(11.5),anchor:'y'};
layout.yaxis={domain:dy(27,417),range:[-590,19760],tickvals:priceTicks,tickformat:'d',showgrid:true,gridcolor:'#e3e3e3',gridwidth:1.5,zeroline:false,ticks:'outside',ticklen:10,tickcolor:'rgba(0,0,0,0)',tickfont:axisFont(11.5),anchor:'x'};
cloudRegions.forEach(p=>{
  data.push({type:'scatter',mode:'lines',x:p[0],y:p[1].map(v=>v*1000),fill:'toself',fillcolor:p[2],opacity:p[3],line:{width:0},xaxis:'x',yaxis:'y'});
});
for(let i=clarityNames.length-1;i>=0;i--){
  const xs=[],ys=[];
  clarityPts[i].forEach(c=>c[1].forEach(v=>{xs.push(c[0]);ys.push(v*1000);}));
  data.push({type:'scatter',mode:'markers',name:clarityNames[i],x:xs,y:ys,marker:{size:3.2,color:clarityColors[i],opacity:.85,line:{width:0}},xaxis:'x',yaxis:'y'});
}
note('carat',328,447.5,13);note('price',76,223,13,-90);

/* box: pair 2 (marks), pair 3 (offset spines) */
layout.xaxis2={domain:dx(664,1125),range:[(664-731.5)/111.3,(1125-731.5)/111.3],visible:false,anchor:'y2'};
layout.yaxis2={domain:dy(20,350),range:[10+(297.5-350)/6.325,10+(297.5-20)/6.325],visible:false,anchor:'x2'};
[boxYes,boxNo].forEach((b,i)=>{
  data.push({type:'box',name:smokerNames[i],x:dayPos,q1:b.q1,median:b.med,q3:b.q3,lowerfence:b.low,upperfence:b.high,boxpoints:false,whiskerwidth:.5,fillcolor:smokerColors[i],line:{color:'#7d7d7d',width:2},xaxis:'x2',yaxis:'y2',offsetgroup:String(i)});
});
data.push({type:'scatter',mode:'markers',x:fliersX,y:fliersY,marker:{symbol:'diamond-tall',size:9,color:'#636363'},xaxis:'x2',yaxis:'y2'});
layout.xaxis3={domain:dx(731.5,1065.4),range:[0,3],tickvals:dayPos,ticktext:dayNames,anchor:'free',position:1-368.7/H,showline:true,linecolor:'#666',linewidth:1.6,ticks:'outside',ticklen:6,tickcolor:'#666',tickwidth:1.5,showgrid:false,zeroline:false,tickfont:axisFont(13)};
layout.yaxis3={domain:dy(44.5,297.5),range:[10,50],tickvals:billTicks,anchor:'free',position:664/W,showline:true,linecolor:'#666',linewidth:1.6,ticks:'outside',ticklen:6,ticklabelstandoff:3,tickcolor:'#666',tickwidth:1.5,showgrid:false,zeroline:false,tickfont:axisFont(13)};
data.push({type:'scatter',mode:'markers',x:dayPos,y:billTicks.slice(0,4),marker:{opacity:0},xaxis:'x3',yaxis:'y3'});
note('day',897,404,14);note('total_bill',621,191.7,14,-90);

/* heatmap: pair 4 */
layout.xaxis4={domain:dx(1299.5,1814),range:[-.5,11.5],type:'category',showgrid:false,zeroline:false,ticks:'outside',ticklen:7,tickcolor:'rgba(0,0,0,0)',tickfont:axisFont(13.5),anchor:'y4'};
layout.yaxis4={domain:dy(32.5,458),range:[11.5,-.5],type:'category',showgrid:false,zeroline:false,ticks:'outside',ticklen:13,tickcolor:'rgba(0,0,0,0)',tickfont:axisFont(13.5),anchor:'x4'};
data.push({type:'heatmap',x:years,y:months,z:flights,zmin:104,zmax:622,colorscale:rocket,xgap:1.5,ygap:1.5,xaxis:'x4',yaxis:'y4',
  colorbar:{thickness:21.8,len:(458-32)/H,lenmode:'fraction',x:1846.7/W,xanchor:'left',y:1-458/H,yanchor:'bottom',xpad:0,ypad:0,outlinewidth:0,tickvals:[200,300,400,500,600],ticks:'outside',ticklen:6,tickcolor:'#666',tickfont:axisFont(13.5)}});
{const tx=[],ty=[],tt=[],tc=[];months.forEach((m,r)=>years.forEach((y,c)=>{tx.push(y);ty.push(m);tt.push(String(flights[r][c]));tc.push(flights[r][c]>=505?'#3a3a3a':'#ececec');}));
 data.push({type:'scatter',mode:'text',x:tx,y:ty,text:tt,textposition:'middle center',textfont:{family:FONT,size:14,color:tc},xaxis:'x4',yaxis:'y4'});}
note('year',1556,496,14);note('month',1202.5,247.7,14,-90);

/* hexbin: pairs 5,6,7 */
const hexXR=[(47.5-63.2)/44.05,(439-63.2)/44.05], hexYR=[(736.4-991)/49.4,(736.4-594.6)/49.4];
const spine={showline:true,linecolor:'#555',linewidth:1.6,ticks:'outside',tickcolor:'#555',tickwidth:1.5,showgrid:false,zeroline:false};
layout.xaxis5={...spine,domain:dx(47.5,439),range:hexXR,tickvals:hexTicksX,ticklen:5,tickfont:axisFont(14),anchor:'y5'};
layout.yaxis5={...spine,domain:dy(594.6,991),range:hexYR,tickvals:hexTicksY,ticklen:6,tickfont:axisFont(14),anchor:'x5'};
{const hx=[],hy=[],hc=[];hexCounts.forEach((row,r)=>row.forEach((c,k)=>{if(c>0){hx.push((r%2===0?.016:.19)+.3515*k);hy.push(hexRowY[r]);hc.push(c);}}));
 data.push({type:'scatter',mode:'markers',x:hx,y:hy,marker:{symbol:'hexagon',size:18.2,color:hc,cmin:0,cmax:18,colorscale:hexScale.map((c,i)=>[i/10,c]),showscale:false,line:{width:0}},xaxis:'x5',yaxis:'y5'});}
layout.xaxis6={...spine,domain:dx(47.5,439),range:hexXR,tickvals:hexTicksX,ticklen:5,showticklabels:false,anchor:'y6'};
layout.yaxis6={domain:dy(505,581.8),range:[0,215],visible:false,anchor:'x6'};
data.push({type:'bar',x:histTopX,y:histTopV,width:.335,marker:{color:'#b5e0d1',line:{color:'#fff',width:.8}},xaxis:'x6',yaxis:'y6'});
layout.xaxis7={domain:dx(452,525),range:[0,212],visible:false,anchor:'y7'};
layout.yaxis7={...spine,domain:dy(594.6,991),range:hexYR,tickvals:hexTicksY,ticklen:6,showticklabels:false,anchor:'x7'};
data.push({type:'bar',orientation:'h',x:histRightV,y:histRightY,width:.318,marker:{color:'#b5e0d1',line:{color:'#fff',width:.8}},xaxis:'x7',yaxis:'y7'});

/* nine density panels: pairs 8..16 */
const colPx=[[604.9,768.5],[780.5,944.4],[956.4,1120.7]], rowPx=[[524.7,681.9],[703.3,860.8],[882.2,1039.4]];
kdeSets.forEach((z,i)=>{
  const n=8+i,c=i%3,r=Math.floor(i/3);
  layout['xaxis'+n]={domain:dx(colPx[c][0],colPx[c][1]),range:[-3,3],tickvals:kdeTicksX,showticklabels:r===2,showgrid:false,zeroline:false,ticks:r===2?'outside':'',ticklen:4,tickcolor:'rgba(0,0,0,0)',tickfont:axisFont(9.5),anchor:'y'+n};
  layout['yaxis'+n]={domain:dy(rowPx[r][0],rowPx[r][1]),range:[-3,3],tickvals:kdeTicks,showticklabels:c===0,showgrid:false,zeroline:false,ticks:c===0?'outside':'',ticklen:5,tickcolor:'rgba(0,0,0,0)',tickfont:axisFont(9.5),anchor:'x'+n};
  data.push({type:'contour',x:kdeX,y:kdeY,z:z,autocontour:false,contours:{coloring:'fill',start:1,end:8,size:1,showlines:false},line:{width:0,smoothing:1.3},colorscale:kdeStops.map((s,k)=>[s,kdePalettes[i][k]]),showscale:false,xaxis:'x'+n,yaxis:'y'+n});
});

/* violins: pair 17 */
layout.shapes.push({type:'rect',xref:'paper',yref:'paper',x0:1262.4/W,x1:1819.3/W,y0:1-988.3/H,y1:1-573.3/H,fillcolor:'#e9e9f1',line:{width:0},layer:'below'});
layout.xaxis17={domain:dx(1262.4,1819.3),range:[(1262.4-1295.5)/69.9,(1819.3-1295.5)/69.9],tickvals:violinTicksX,showgrid:false,zeroline:false,ticks:'outside',ticklen:9,tickcolor:'rgba(0,0,0,0)',tickfont:axisFont(14.5),anchor:'y17'};
layout.yaxis17={domain:dy(573.3,988.3),range:[-9.19,18.06],tickvals:violinTicksY,showgrid:true,gridcolor:'#fff',gridwidth:1.6,zeroline:false,ticks:'outside',ticklen:15,tickcolor:'rgba(0,0,0,0)',tickfont:axisFont(14.5),anchor:'x17'};
violinSamples.forEach((s,i)=>{
  data.push({type:'violin',y:s,x0:i,name:String(i),width:violinFullWidths[i],scalemode:'width',bandwidth:violinBandwidths[i],span:violinSpans[i],spanmode:'manual',fillcolor:violinColors[i],line:{color:'#3d3d3d',width:1.7},points:'all',jitter:0,pointpos:0,marker:{size:6.5,color:'#262626'},box:{visible:false},meanline:{visible:false},xaxis:'x17',yaxis:'y17'});
});

/* drawn legends: pairs 18 (scatter) and 19 (box) */
layout.xaxis18={domain:dx(445,519),range:[0,74],visible:false,anchor:'y18'};
layout.yaxis18={domain:dy(162,412),range:[14.66,-.55],visible:false,anchor:'x18'};
data.push({type:'scatter',mode:'lines',x:[0,74,74,0,0],y:[-.55,-.55,14.66,14.66,-.55],fill:'toself',fillcolor:'rgba(255,255,255,.8)',line:{color:'#e8e8e8',width:1.2},xaxis:'x18',yaxis:'y18'});
{const rows=['clarity',...clarityNames,'depth',...depthValues];
 data.push({type:'scatter',mode:'text',x:rows.map(()=>38),y:rows.map((_,i)=>i),text:rows,textposition:'middle right',textfont:{family:FONT,size:11.5,color:TXT},xaxis:'x18',yaxis:'y18'});
 data.push({type:'scatter',mode:'markers',x:clarityNames.map(()=>16.7),y:clarityNames.map((_,i)=>i+1),marker:{size:8,color:clarityColors},xaxis:'x18',yaxis:'y18'});
 data.push({type:'scatter',mode:'markers',x:depthValues.map(()=>16.7),y:depthValues.map((_,i)=>i+10),marker:{size:depthSizes,color:'#333'},xaxis:'x18',yaxis:'y18'});}
layout.xaxis19={domain:dx(682.7,755.7),range:[0,73],visible:false,anchor:'y19'};
layout.yaxis19={domain:dy(31,91),range:[60,0],visible:false,anchor:'x19'};
data.push({type:'scatter',mode:'lines',x:[0,73,73,0,0],y:[0,0,60,60,0],fill:'toself',fillcolor:'rgba(255,255,255,.8)',line:{color:'#e8e8e8',width:1.2},xaxis:'x19',yaxis:'y19'});
smokerNames.forEach((s,i)=>{const t=25.5+18.3*i;
  data.push({type:'scatter',mode:'lines',x:[5.3,32.3,32.3,5.3,5.3],y:[t,t,t+10,t+10,t],fill:'toself',fillcolor:smokerColors[i],line:{color:'#8a8a8a',width:1.2},xaxis:'x19',yaxis:'y19'});
});
data.push({type:'scatter',mode:'text',x:[44,44],y:[30.7,49],text:smokerNames,textposition:'middle right',textfont:{family:FONT,size:13,color:TXT},xaxis:'x19',yaxis:'y19'});
data.push({type:'scatter',mode:'text',x:[35.3],y:[10.7],text:['smoker'],textposition:'middle center',textfont:{family:FONT,size:12,color:TXT},xaxis:'x19',yaxis:'y19'});

Plotly.newPlot('chart',data,layout,{displayModeBar:false,staticPlot:true});
</script></body></html>
